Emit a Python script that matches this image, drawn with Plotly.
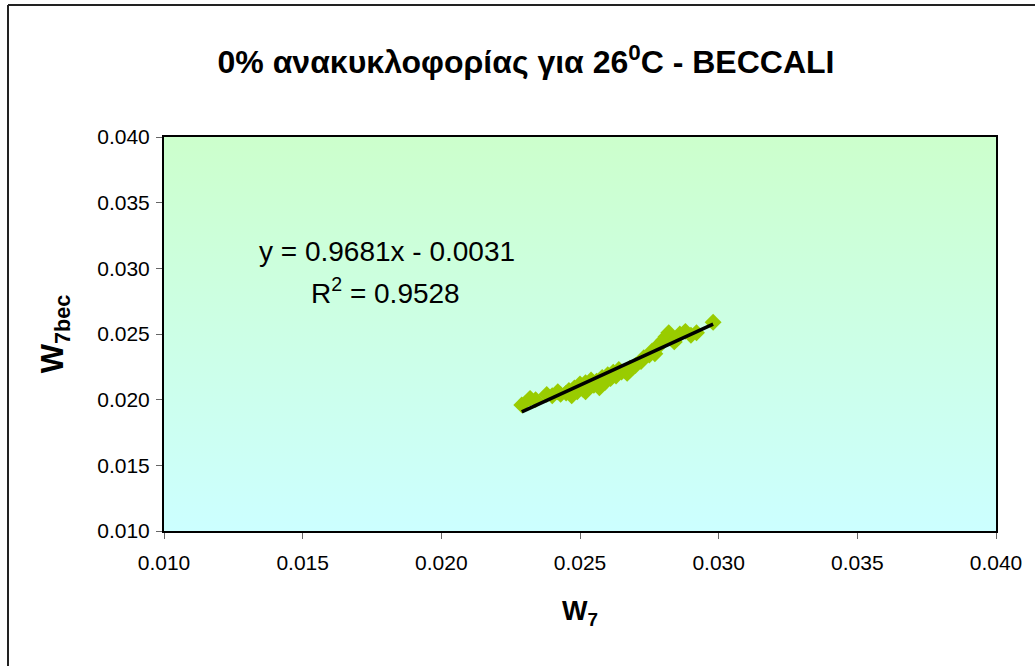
import plotly.graph_objects as go

# Measured humidity ratio W7 vs. BECCALI-model estimate W7bec (0% recirculation, 26 °C)
w7 = [0.0229, 0.0232, 0.0234, 0.0238, 0.0240, 0.0242, 0.0243, 0.0245, 0.0246, 0.0247,
      0.0248, 0.0249, 0.0250, 0.0251, 0.0252, 0.0252, 0.0253, 0.0254, 0.0255, 0.0256,
      0.0257, 0.0258, 0.0259, 0.0260, 0.0261, 0.0262, 0.0263, 0.0264, 0.0265, 0.0267,
      0.0268, 0.0270, 0.0272, 0.0273, 0.0275, 0.0276, 0.0277, 0.0278, 0.0279, 0.0280,
      0.0281, 0.0282, 0.0283, 0.0284, 0.0286, 0.0288, 0.0290, 0.0292, 0.0298]
w7bec = [0.0196, 0.0201, 0.0200, 0.0204, 0.0203, 0.0206, 0.0204, 0.0205, 0.0207, 0.0203,
         0.0209, 0.0206, 0.0212, 0.0208, 0.0213, 0.0206, 0.0210, 0.0215, 0.0211, 0.0214,
         0.0209, 0.0217, 0.0213, 0.0219, 0.0216, 0.0221, 0.0218, 0.0223, 0.0221, 0.0220,
         0.0224, 0.0226, 0.0229, 0.0232, 0.0234, 0.0237, 0.0235, 0.0240, 0.0243, 0.0245,
         0.0248, 0.0251, 0.0247, 0.0244, 0.0250, 0.0252, 0.0249, 0.0251, 0.0259]

# Linear trendline reported on the chart
slope = 0.9681
intercept = -0.0031
r_squared = 0.9528

axis_range = [0.010, 0.040]
tick_values = [0.010, 0.015, 0.020, 0.025, 0.030, 0.035, 0.040]
tick_labels = ["0.010", "0.015", "0.020", "0.025", "0.030", "0.035", "0.040"]

FONT = "Liberation Sans, Arial, sans-serif"

fig = go.Figure()

# Plot-area background: vertical gradient from pale green (top) to pale cyan (bottom)
lo, hi = axis_range
fig.add_trace(go.Scatter(
    x=[lo, hi, hi, lo, lo], y=[lo, lo, hi, hi, lo],
    mode="lines", line=dict(width=0), fill="toself",
    fillgradient=dict(type="vertical",
                      colorscale=[[0, "#CCFFFF"], [1, "#CCFFCC"]]),
    hoverinfo="skip", showlegend=False,
))

# Data points
fig.add_trace(go.Scatter(
    x=w7, y=w7bec, mode="markers",
    marker=dict(symbol="diamond", size=13, color="#99CC00", line=dict(width=0)),
    showlegend=False,
))

# Trendline across the data span
x_fit = [min(w7), max(w7)]
y_fit = [slope * v + intercept for v in x_fit]
fig.add_trace(go.Scatter(
    x=x_fit, y=y_fit, mode="lines",
    line=dict(color="black", width=3.5),
    showlegend=False,
))

sign = "-" if intercept < 0 else "+"
fig.add_annotation(
    text=f"y = {slope:.4f}x {sign} {abs(intercept):.4f}",
    xref="paper", yref="paper", x=(387 - 164) / 832, y=(531 - 251) / 394,
    xanchor="center", yanchor="middle", showarrow=False,
    font=dict(family=FONT, size=28, color="black"),
)
fig.add_annotation(
    text=f"R<sup>2</sup> = {r_squared:.4f}",
    xref="paper", yref="paper", x=(385 - 164) / 832, y=(531 - 291) / 394,
    xanchor="center", yanchor="middle", showarrow=False,
    font=dict(family=FONT, size=28, color="black"),
)

# Outer chart frame (left and top edges)
fig.add_shape(type="line", xref="paper", yref="paper",
              x0=(8 - 164) / 832, x1=(1040 - 164) / 832,
              y0=(531 - 5) / 394, y1=(531 - 5) / 394,
              line=dict(color="#222222", width=2))
fig.add_shape(type="line", xref="paper", yref="paper",
              x0=(8 - 164) / 832, x1=(8 - 164) / 832,
              y0=(531 - 5) / 394, y1=(531 - 672) / 394,
              line=dict(color="#222222", width=2))

axis_common = dict(
    range=axis_range, tickvals=tick_values, ticktext=tick_labels,
    showgrid=False, zeroline=False,
    showline=True, linecolor="black", linewidth=2, mirror=True,
    ticks="outside", ticklen=6, tickcolor="#666666", tickwidth=1,
    tickfont=dict(family=FONT, size=21, color="black"),
)

fig.update_layout(
    width=1035, height=666,
    margin=dict(l=164, r=39, t=137, b=135),
    paper_bgcolor="white", plot_bgcolor="white",
    title=dict(
        text="<b>0% ανακυκλοφορίας για 26<sup>0</sup>C - BECCALI</b>",
        x=526 / 1035, xanchor="center", xref="container",
        y=1 - 62 / 666, yanchor="middle", yref="container",
        font=dict(family=FONT, size=32, color="black"),
    ),
    xaxis=dict(**axis_common, ticklabelstandoff=6,
               title=dict(text="<b>W<sub>7</sub></b>", standoff=28,
                          font=dict(family=FONT, size=27, color="black"))),
    yaxis=dict(**axis_common, ticklabelstandoff=2,
               title=dict(text="<b>W<sub>7bec</sub></b>", standoff=24,
                          font=dict(family=FONT, size=31, color="black"))),
)

fig.write_html("out.html")
